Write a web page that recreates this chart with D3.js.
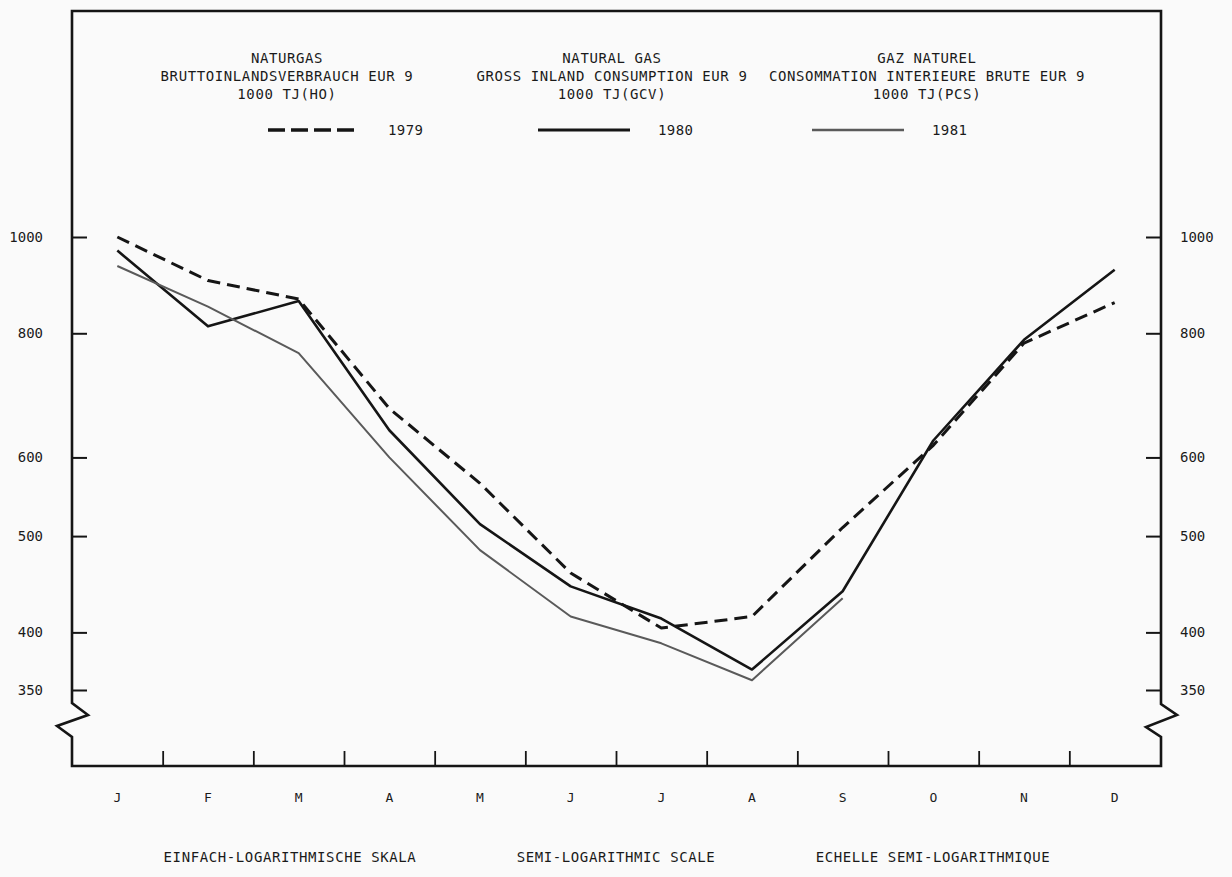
<!DOCTYPE html>
<html>
<head>
<meta charset="utf-8">
<script src="https://cdn.jsdelivr.net/npm/d3@7"></script>
<style>
  html, body { margin: 0; padding: 0; background: #fafafa; }
  svg { display: block; }
  text { font-family: "DejaVu Sans Mono", "Liberation Mono", monospace; fill: #1a1a1a; }
</style>
</head>
<body>
<svg id="chart" width="1232" height="877"></svg>
<script>
// ---- data ----
const months = ["J","F","M","A","M","J","J","A","S","O","N","D"];
const years = ["1979","1980","1981"];
const gas1979 = [1000, 904, 866, 672, 565, 459, 404, 415, 510, 617, 782, 859];
const gas1980 = [969, 813, 862, 639, 514, 445, 413, 367, 440, 624, 788, 927];
const gas1981 = [935, 851, 764, 600, 484, 415, 390, 358, 433];
const yTicks = [350, 400, 500, 600, 800, 1000];
const titleDE = ["NATURGAS", "BRUTTOINLANDSVERBRAUCH EUR 9", "1000 TJ(HO)"];
const titleEN = ["NATURAL GAS", "GROSS INLAND CONSUMPTION EUR 9", "1000 TJ(GCV)"];
const titleFR = ["GAZ NATUREL", "CONSOMMATION INTERIEURE BRUTE EUR 9", "1000 TJ(PCS)"];
const scaleNotes = ["EINFACH-LOGARITHMISCHE SKALA", "SEMI-LOGARITHMIC SCALE", "ECHELLE SEMI-LOGARITHMIQUE"];

// ---- layout ----
const L = 72, R = 1161, T = 11, B = 766;
const svg = d3.select("#chart");
const ink = "#151515";

const x = d3.scaleBand().domain(d3.range(12)).range([L, 1160]);
const xc = i => x(i) + x.bandwidth() / 2;
const xEdge = d3.scaleLinear().domain([0, 12]).range([L, 1160]);
const y = d3.scaleLog().domain([350, 1000]).range([690, 237]);

// frame with axis breaks
const frame = d3.path();
frame.moveTo(L, T); frame.lineTo(L, 703); frame.lineTo(L + 16, 715); frame.lineTo(L - 15, 726);
frame.lineTo(L, 737); frame.lineTo(L, B); frame.lineTo(R, B); frame.lineTo(R, 737);
frame.lineTo(R - 15, 727); frame.lineTo(R + 16, 715); frame.lineTo(R, 704); frame.lineTo(R, T);
frame.closePath();
svg.append("path").attr("d", frame.toString()).attr("fill", "none")
  .attr("stroke", ink).attr("stroke-width", 2.6).attr("stroke-linejoin", "miter");

// y axes
function styleAxis(g) {
  g.select(".domain").remove();
  g.selectAll(".tick line").attr("stroke", ink).attr("stroke-width", 2);
  g.selectAll(".tick text").attr("font-size", 14).attr("fill", "#1a1a1a")
    .attr("font-family", "DejaVu Sans Mono, monospace");
}
svg.append("g").attr("transform", `translate(${L},0)`)
  .call(d3.axisLeft(y).tickValues(yTicks).tickFormat(d3.format("d")).tickSize(-15).tickPadding(29))
  .call(styleAxis);
svg.append("g").attr("transform", `translate(${R},0)`)
  .call(d3.axisRight(y).tickValues(yTicks).tickFormat(d3.format("d")).tickSize(-15).tickPadding(19))
  .call(styleAxis);

// x axis ticks (between months) and month labels
svg.append("g").attr("transform", `translate(0,${B})`)
  .call(d3.axisBottom(xEdge).tickValues(d3.range(1, 12)).tickFormat("").tickSize(-15))
  .call(g => { g.select(".domain").remove(); g.selectAll(".tick line").attr("stroke", ink).attr("stroke-width", 1.8); });
svg.append("g").attr("transform", `translate(0,${B})`)
  .call(d3.axisBottom(x).tickFormat(i => months[i]).tickSize(0).tickPadding(27))
  .call(g => { g.select(".domain").remove();
    g.selectAll(".tick text").attr("font-size", 13).attr("fill", "#1a1a1a")
      .attr("font-family", "DejaVu Sans Mono, monospace"); });

// series
const series = [
  { year: years[0], values: gas1979, color: ink, width: 3, dash: "13,7" },
  { year: years[1], values: gas1980, color: ink, width: 2.6, dash: null },
  { year: years[2], values: gas1981, color: "#5a5a5a", width: 2, dash: null }
];
const line = d3.line().x((d, i) => xc(i)).y(d => y(d));
series.forEach(s => {
  svg.append("path").datum(s.values).attr("d", line)
    .attr("fill", "none").attr("stroke", s.color).attr("stroke-width", s.width)
    .attr("stroke-linejoin", "round")
    .attr("stroke-dasharray", s.dash);
});

// titles
const titleCenters = [287, 612, 927];
[titleDE, titleEN, titleFR].forEach((lines, k) => {
  lines.forEach((t, j) => {
    svg.append("text").attr("x", titleCenters[k]).attr("y", 63 + j * 18)
      .attr("text-anchor", "middle").attr("font-size", 14).attr("letter-spacing", 0.6).text(t);
  });
});

// legend
const legendX = [268, 538, 812];
series.forEach((s, k) => {
  const lx = legendX[k];
  svg.append("line").attr("x1", lx).attr("x2", lx + 92).attr("y1", 130).attr("y2", 130)
    .attr("stroke", s.color).attr("stroke-width", s.width + 0.4).attr("stroke-dasharray", s.dash ? "17,6" : null);
  svg.append("text").attr("x", lx + 120 - (k === 0 ? 0 : 0)).attr("y", 135)
    .attr("font-size", 14).attr("letter-spacing", 0.4).text(s.year);
});

// bottom scale notes
const noteCenters = [290, 616, 933];
scaleNotes.forEach((t, k) => {
  svg.append("text").attr("x", noteCenters[k]).attr("y", 862).attr("text-anchor", "middle")
    .attr("font-size", 14).attr("letter-spacing", 0.6).text(t);
});
</script>
</body>
</html>
